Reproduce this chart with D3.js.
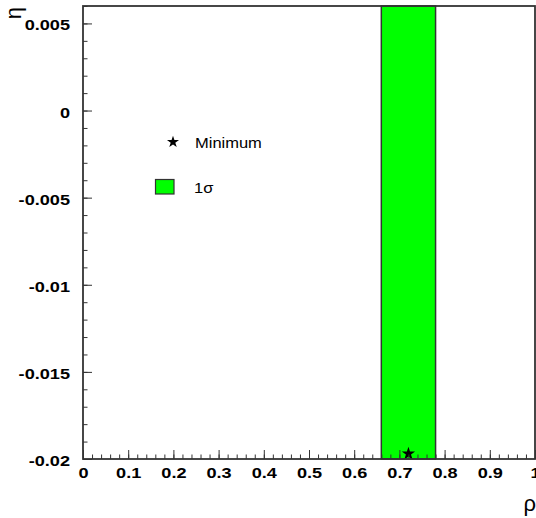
<!DOCTYPE html>
<html>
<head>
    <meta charset="utf-8">
    <script src="https://d3js.org/d3.v7.min.js"></script>
    <style>
        body { margin: 0; background: white; }
        .tick-label { font-family: "Liberation Sans", Arial, sans-serif; font-weight: bold; font-size: 15.5px; fill: black; }
        .legend-text { font-family: "Liberation Sans", Arial, sans-serif; font-size: 15px; fill: black; }
        .axis-title { font-family: "Liberation Sans", Arial, sans-serif; font-size: 22px; fill: black; }
    </style>
</head>
<body>
    <div id="chart"></div>
    <script>
        // 軸範圍與刻度
        const xDomain = [0, 1];
        const yDomain = [-0.02, 0.006];
        const xMajorTicks = [0, 0.1, 0.2, 0.3, 0.4, 0.5, 0.6, 0.7, 0.8, 0.9, 1];
        const yMajorTicks = [-0.02, -0.015, -0.01, -0.005, 0, 0.005];
        const xTickLabels = ["0", "0.1", "0.2", "0.3", "0.4", "0.5", "0.6", "0.7", "0.8", "0.9", "1"];
        const yTickLabels = ["-0.02", "-0.015", "-0.01", "-0.005", "0", "0.005"];

        // 1σ 區間 (rho) 與最小值
        const sigmaBand = [0.66, 0.78];
        const minimumPoint = [0.72, -0.0197];

        // 圖例
        const legendLabels = ["Minimum", "1σ"];

        const width = 536, height = 518;
        const margin = { top: 6, right: 1, bottom: 59, left: 83 };
        const labelStretch = 1.17;   // 原圖字型較寬
        const legendStretch = 1.1;

        const svg = d3.select("#chart").append("svg")
            .attr("width", width)
            .attr("height", height);

        const x = d3.scaleLinear().domain(xDomain).range([margin.left, width - margin.right]);
        const y = d3.scaleLinear().domain(yDomain).range([height - margin.bottom, margin.top]);

        // 1σ 綠色區塊
        svg.append("rect")
            .attr("x", x(sigmaBand[0]))
            .attr("y", y(yDomain[1]))
            .attr("width", x(sigmaBand[1]) - x(sigmaBand[0]))
            .attr("height", y(yDomain[0]) - y(yDomain[1]))
            .attr("fill", "#00ff00")
            .attr("stroke", "#333")
            .attr("stroke-width", 1.5);

        // 最小值星號
        const star = d3.symbol().type(d3.symbolStar).size(55);
        svg.append("path")
            .attr("d", star())
            .attr("transform", `translate(${x(minimumPoint[0])},${y(minimumPoint[1])})`)
            .attr("fill", "black");

        // 次刻度
        const xMinor = d3.range(0, 1.0001, 0.02);
        const yMinor = d3.range(-0.02, 0.00601, 0.001);

        svg.append("g")
            .attr("transform", `translate(0,${y(yDomain[0])})`)
            .call(d3.axisBottom(x).tickValues(xMinor).tickSize(-4.5).tickFormat(""))
            .call(g => g.select(".domain").remove())
            .call(g => g.selectAll("line").attr("stroke", "#333"));

        svg.append("g")
            .attr("transform", `translate(${x(xDomain[0])},0)`)
            .call(d3.axisLeft(y).tickValues(yMinor).tickSize(-4.5).tickFormat(""))
            .call(g => g.select(".domain").remove())
            .call(g => g.selectAll("line").attr("stroke", "#333"));

        // 主刻度
        const xAxis = svg.append("g")
            .attr("transform", `translate(0,${y(yDomain[0])})`)
            .call(d3.axisBottom(x).tickValues(xMajorTicks).tickSize(-9).tickPadding(8)
                .tickFormat((d, i) => xTickLabels[i]))
            .call(g => g.select(".domain").remove())
            .call(g => g.selectAll("line").attr("stroke", "#333"));
        xAxis.selectAll("text")
            .attr("class", "tick-label").attr("font-size", null).attr("font-family", null)
            .attr("transform", `scale(${labelStretch},1)`);

        const yAxis = svg.append("g")
            .attr("transform", `translate(${x(xDomain[0])},0)`)
            .call(d3.axisLeft(y).tickValues(yMajorTicks).tickSize(-9).tickPadding(13)
                .tickFormat((d, i) => yTickLabels[i]))
            .call(g => g.select(".domain").remove())
            .call(g => g.selectAll("line").attr("stroke", "#333"));
        yAxis.selectAll("text")
            .attr("class", "tick-label").attr("font-size", null).attr("font-family", null)
            .attr("dy", "0.42em")
            .attr("x", -13 / labelStretch)
            .attr("transform", `scale(${labelStretch},1)`);

        // 外框
        svg.append("rect")
            .attr("x", x(xDomain[0]))
            .attr("y", y(yDomain[1]))
            .attr("width", x(xDomain[1]) - x(xDomain[0]))
            .attr("height", y(yDomain[0]) - y(yDomain[1]))
            .attr("fill", "none")
            .attr("stroke", "#333")
            .attr("stroke-width", 1.8);

        // 軸標題
        svg.append("text")
            .attr("class", "axis-title")
            .attr("text-anchor", "end")
            .attr("x", 536)
            .attr("y", 511)
            .text("ρ");

        svg.append("text")
            .attr("class", "axis-title")
            .attr("text-anchor", "end")
            .attr("font-size", 13)
            .attr("transform", "translate(21,7) rotate(-90)")
            .text("η");

        // 圖例
        const legend = svg.append("g");
        legend.append("path")
            .attr("d", d3.symbol().type(d3.symbolStar).size(45)())
            .attr("transform", "translate(173,142)")
            .attr("fill", "black");
        legend.append("text")
            .attr("class", "legend-text")
            .attr("transform", `translate(195,148) scale(${legendStretch},1)`)
            .text(legendLabels[0]);

        legend.append("rect")
            .attr("x", 155.5)
            .attr("y", 179.5)
            .attr("width", 18.5)
            .attr("height", 14.5)
            .attr("fill", "#00ff00")
            .attr("stroke", "#333")
            .attr("stroke-width", 1.2);
        legend.append("text")
            .attr("class", "legend-text")
            .attr("transform", `translate(194,193) scale(${legendStretch},1)`)
            .text(legendLabels[1]);
    </script>
</body>
</html>
